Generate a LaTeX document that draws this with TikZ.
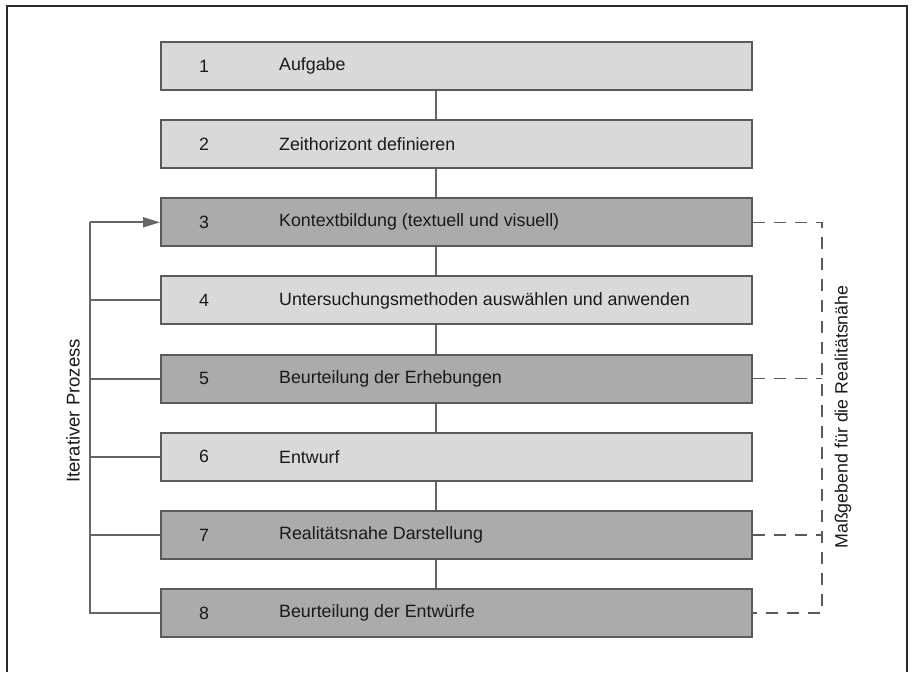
\documentclass[tikz,border=0pt]{standalone}
\usepackage{fontspec}
\setmainfont{Liberation Sans}
\usetikzlibrary{arrows.meta,calc}
\definecolor{lightbox}{HTML}{D9D9D9}
\definecolor{darkbox}{HTML}{ABABAB}
\definecolor{boxline}{HTML}{5A5A5A}
\definecolor{conline}{HTML}{666666}
\definecolor{frameline}{HTML}{2A2A2A}
\begin{document}
\begin{tikzpicture}[x=1pt,y=-1pt,
  stepbox/.style={draw=boxline,line width=2pt,minimum width=591pt,minimum height=48pt,inner sep=0pt,anchor=center},
  lightstep/.style={stepbox,fill=lightbox},
  darkstep/.style={stepbox,fill=darkbox},
  numtext/.style={font=\fontsize{17.8}{20}\selectfont,text=black!90,anchor=center,inner sep=0pt},
  labtext/.style={font=\fontsize{17.8}{20}\selectfont,text=black!90,anchor=west,inner sep=0pt},
  sidetext/.style={font=\fontsize{17.8}{20}\selectfont,text=black!90,rotate=90,anchor=center,inner sep=0pt},
  conn/.style={draw=conline,line width=2pt},
  dashconn/.style={draw=boxline,line width=1.6pt,dash pattern=on 12pt off 9pt}
]
\useasboundingbox (0,0) rectangle (912,672);
\draw[frameline,line width=2pt] (6.5,672) -- (6.5,5.5) -- (907,5.5) -- (907,672);

\def\bx{456.5}
\node[lightstep] (b1) at (\bx,66) {};
\node[lightstep] (b2) at (\bx,144.1) {};
\node[darkstep]  (b3) at (\bx,222.3) {};
\node[lightstep] (b4) at (\bx,300.4) {};
\node[darkstep]  (b5) at (\bx,378.6) {};
\node[lightstep] (b6) at (\bx,456.7) {};
\node[darkstep]  (b7) at (\bx,534.9) {};
\node[darkstep]  (b8) at (\bx,613) {};

\foreach \i/\t in {1/Aufgabe,2/Zeithorizont definieren,3/Kontextbildung (textuell und visuell),4/Untersuchungsmethoden auswählen und anwenden,5/Beurteilung der Erhebungen,6/Entwurf,7/Realitätsnahe Darstellung,8/Beurteilung der Entwürfe}{
  \node[numtext] (n\i) at (204,0 |- b\i.center) {\i};
  \node[labtext] (l\i) at (279,0 |- b\i.center) {\t};
}

% spine connectors
\foreach \i/\j in {1/2,2/3,3/4,4/5,5/6,6/7,7/8}{
  \draw[conn] (436,0 |- b\i.south) -- (436,0 |- b\j.north);
}

% iterative process loop
\coordinate (lp) at (90,0 |- b8.center);
\coordinate (lt) at (90,0 |- b3.center);
\draw[conn] (b8.west) -- (lp) -- (lt);
\draw[conn,-{Triangle[length=17pt,width=10pt]}] (lt) -- (b3.west);
\foreach \i in {4,5,6,7}{
  \draw[conn] (90,0 |- b\i.center) -- (b\i.west);
}
\node[sidetext,font=\fontsize{18.5}{20}\selectfont] (it) at (73,411) {Iterativer Prozess};

% dashed right bracket
\coordinate (rt) at (822,0 |- b3.center);
\coordinate (rb) at (822,0 |- b8.center);
\draw[dashconn] (b3.east) -- (rt) -- (rb) -- (b8.east);
\draw[dashconn] (b5.east) -- (822,0 |- b5.center);
\draw[dashconn] (b7.east) -- (822,0 |- b7.center);
\node[sidetext] (mg) at (843,417) {Maßgebend für die Realitätsnähe};
\end{tikzpicture}
\end{document}
